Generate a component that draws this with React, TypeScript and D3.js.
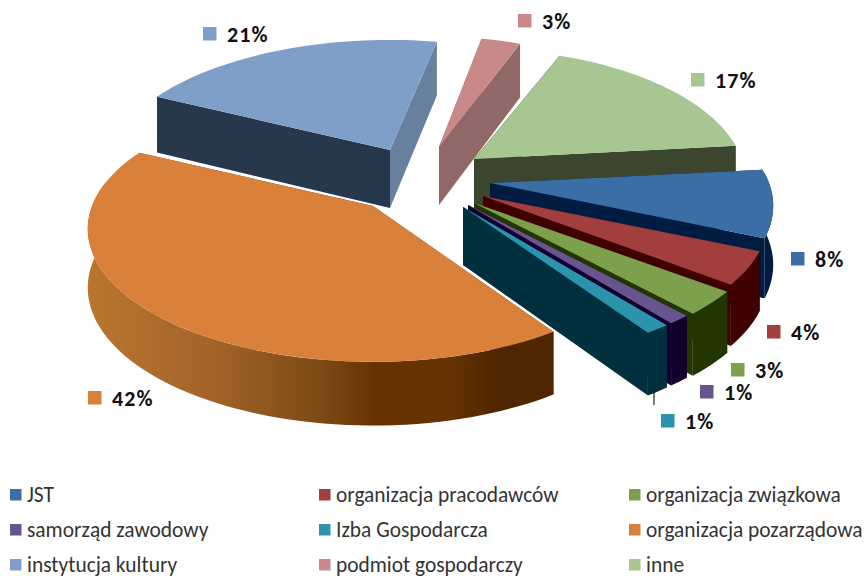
import React from "react";
import * as d3 from "d3";

const categories = ["JST","organizacja pracodawców","organizacja związkowa","samorząd zawodowy","Izba Gospodarcza","organizacja pozarządowa","instytucja kultury","podmiot gospodarczy","inne"];
const values = [8.2,4,2.9,1.1,1.2,41.6,20.8,2.9,17.3];
const topColors = ["#3B6EA5","#A33E3E","#7CA04B","#68548F","#2B93AC","#D9803A","#809FC8","#C98989","#A8C692"];
const wallColors = ["#001C40","#3F0000","#233500","#14002F","#00303E","#6A3800","#687F9E","#906868","#3C462F"];
const leftFaceColors = ["#001C40","#3F0000","#233500","#14002F","#00303E","#6A3800","#28384C","#906868","#3C462F"];

// layout of the exploded slices
const tipX = [490,483,474,468,463,373,390,439,474];
const tipY = [183,196,203,205,207,206,150,147,159];
const radii = [279,281,287,287,288,281,280,254,268];
const drawOrder = [7,6,8,0,1,2,3,4,5];
const labelX = [791,767,731,700,661,88,203,518,691];
const labelY = [259,332,370,392,421,398,34,21,80];
const legendCols = [10,319,629];
const legendRows = [495,530,565];

const S = 129, K = 0.172, DEPTH = 58;
const toRad = Math.PI / 180;

const project = (i: number, a: number, down = 0): [number, number] => {
  const w = 1 + K * Math.cos(a);
  const d = down * DEPTH / Math.sqrt(w);
  return [tipX[i] + radii[i] * Math.sin(a) / w, tipY[i] - S * Math.cos(a) / w + d];
};

const pieGen = d3.pie<number>().sort(null).startAngle(84 * toRad).endAngle(444 * toRad);
const arcs = pieGen(values);
const line = d3.line();

const arcPts = (i: number, a0: number, a1: number, down = 0) => {
  const n = Math.max(2, Math.ceil((a1 - a0) / (2 * toRad)));
  return d3.range(n + 1).map((k) => project(i, a0 + ((a1 - a0) * k) / n, down));
};

const Slice = ({ i }: { i: number }) => {
  const { startAngle: a0, endAngle: a1 } = arcs[i];
  const tip: [number, number] = [tipX[i], tipY[i]];
  const tipLow: [number, number] = [tipX[i], tipY[i] + DEPTH];
  const top = [tip, ...arcPts(i, a0, a1)];
  // only the part of the rim that faces the viewer gets an outer wall
  const w0 = Math.max(a0, 85 * toRad), w1 = Math.min(a1, 280 * toRad);
  const wall = w1 > w0 ? [...arcPts(i, w0, w1), ...arcPts(i, w0, w1, 1).reverse()] : null;
  const faceStart = [tip, project(i, a0), project(i, a0, 1), tipLow];
  const faceEnd = [tip, project(i, a1), project(i, a1, 1), tipLow];
  const wallFill = i === 5 ? "url(#orangeWall)" : wallColors[i];
  return (
    <g>
      <path d={line(faceStart) + "Z"} fill={leftFaceColors[i]} />
      <path d={line(faceEnd) + "Z"} fill={i === 6 ? wallColors[i] : leftFaceColors[i]} />
      {wall && <path d={line(wall) + "Z"} fill={wallFill} />}
      <path d={line(top) + "Z"} fill={topColors[i]} />
    </g>
  );
};

const fontFamily = "Carlito, Calibri, Lato, 'Open Sans', sans-serif";

export default function App() {
  return (
    <svg width={867} height={576} style={{ position: "absolute", left: 0, top: 0 }} fontFamily={fontFamily}>
      <rect width={867} height={576} fill="#fff" />
      <defs>
        <linearGradient id="orangeWall" gradientUnits="userSpaceOnUse" x1={88} x2={552} y1={0} y2={0}>
          <stop offset="0" stopColor="#B8762F" />
          <stop offset="0.25" stopColor="#A5652A" />
          <stop offset="0.5" stopColor="#7E4A15" />
          <stop offset="0.62" stopColor="#663300" />
          <stop offset="0.78" stopColor="#663300" />
          <stop offset="0.88" stopColor="#4F2600" />
          <stop offset="1" stopColor="#4F2600" />
        </linearGradient>
      </defs>
      {drawOrder.map((i) => <Slice key={i} i={i} />)}
      <line x1={654} x2={654} y1={392} y2={405} stroke="#222" strokeWidth={1.2} />
      {values.map((v, i) => (
        <g key={i}>
          <rect x={labelX[i]} y={labelY[i] - 7} width={13.5} height={13.5} fill={topColors[i]} />
          <text x={labelX[i] + 24} y={labelY[i] + 7.5} fontSize={22} letterSpacing={1.1} fontWeight={700} fill="#111">{Math.round(v)}%</text>
        </g>
      ))}
      {categories.map((c, i) => {
        const x = legendCols[i % 3], y = legendRows[Math.floor(i / 3)];
        return (
          <g key={c}>
            <rect x={x} y={y - 6} width={11.5} height={11.5} fill={topColors[i]} />
            <text x={x + 17} y={y + 6.5} fontSize={21.4} fill="#333">{c}</text>
          </g>
        );
      })}
    </svg>
  );
}
